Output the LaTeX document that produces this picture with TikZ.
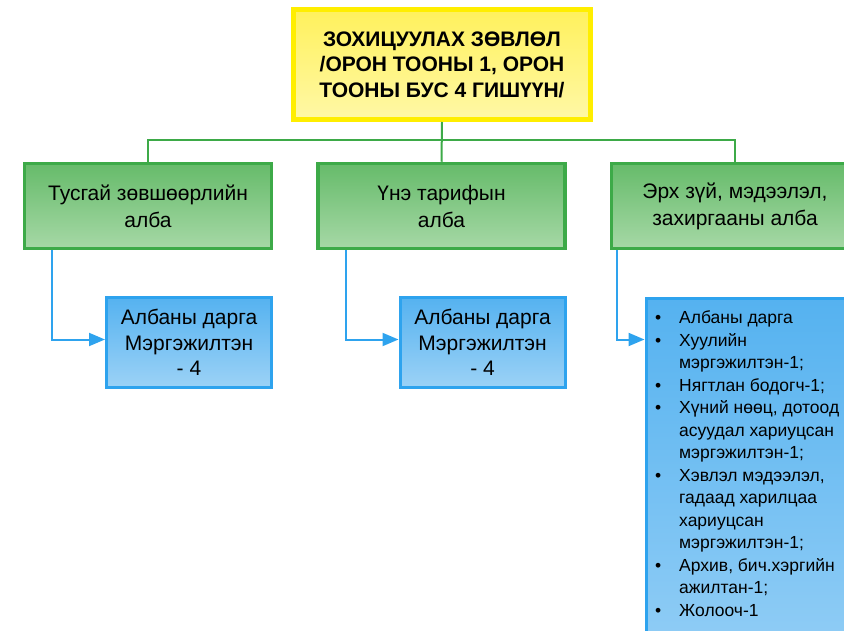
\documentclass[tikz,border=0pt]{standalone}
\usepackage{fontspec}
\setmainfont{Liberation Sans}
\usetikzlibrary{arrows.meta}
\definecolor{ybord}{HTML}{FFEE00}
\definecolor{ytop}{HTML}{FFF15C}
\definecolor{ybot}{HTML}{FFF8A6}
\definecolor{gbord}{HTML}{3DAA48}
\definecolor{gtop}{HTML}{66BB6A}
\definecolor{gbot}{HTML}{A6D8A6}
\definecolor{bbord}{HTML}{2EA3EE}
\definecolor{btop}{HTML}{55B2F0}
\definecolor{bbot}{HTML}{9CD2F6}
\tikzset{
  titlebox/.style={draw=ybord, line width=5pt, top color=ytop, bottom color=ybot,
    minimum width=297pt, minimum height=110pt, inner sep=0pt, align=center,
    font=\fontsize{21}{25.5}\selectfont\bfseries},
  deptbox/.style={draw=gbord, line width=3.5pt, top color=gtop, bottom color=gbot,
    minimum width=247pt, minimum height=85pt, inner sep=0pt, align=center,
    font=\fontsize{21}{27}\selectfont},
  staffbox/.style={draw=bbord, line width=3pt, top color=btop, bottom color=bbot,
    minimum width=165pt, minimum height=90pt, inner sep=0pt, align=center,
    font=\fontsize{21}{25.5}\selectfont},
  gline/.style={draw=gbord, line width=2pt},
  bline/.style={draw=bbord, line width=2pt, -{Triangle[length=16pt,width=13pt]}},
  plain/.style={inner sep=0pt}
}
\begin{document}
\begin{tikzpicture}[x=1pt,y=-1pt]
\useasboundingbox (0,0) rectangle (844,631);
\clip (0,0) rectangle (844,631);
\node[titlebox] (top) at (442,64.5) {ЗОХИЦУУЛАХ ЗӨВЛӨЛ\\/ОРОН ТООНЫ 1, ОРОН\\ТООНЫ БУС 4 ГИШҮҮН/};
\node[deptbox] (gl) at (148,206) {\raisebox{2pt}{\parbox{247pt}{\centering Тусгай зөвшөөрлийн\\алба}}};
\node[deptbox] (gm) at (441.5,206) {\raisebox{2pt}{\parbox{247pt}{\centering Үнэ тарифын\\алба}}};
\node[deptbox] (gr) at (735,206) {\raisebox{2pt}{\parbox{247pt}{\centering Эрх зүй, мэдээлэл,\\захиргааны алба}}};
\coordinate (bus) at (442,140);
\draw[gline] (top.south) -- (gm.north);
\draw[gline] (gl.north) |- (bus) -| (gr.north);
\node[staffbox] (bl) at (189,342.5) {\raisebox{-3pt}{\parbox{165pt}{\centering Албаны дарга\\Мэргэжилтэн\\- 4}}};
\node[staffbox] (bm) at (482.5,342.5) {\raisebox{-3pt}{\parbox{165pt}{\centering Албаны дарга\\Мэргэжилтэн\\- 4}}};
\node[draw=bbord, line width=3pt, top color=btop, bottom color=bbot, minimum width=260pt,
  minimum height=420pt, inner sep=0pt, anchor=north west] (br) at (644.5,297.5) {};
\node[plain, anchor=north west, align=left] (list) at (655,308) {\fontsize{17.5}{22.5}\selectfont
\begin{tabular}{@{}p{24pt}@{}l@{}}
\textbullet&Албаны дарга\\
\textbullet&Хуулийн\\
&мэргэжилтэн-1;\\
\textbullet&Нягтлан бодогч-1;\\
\textbullet&Хүний нөөц, дотоод\\
&асуудал хариуцсан\\
&мэргэжилтэн-1;\\
\textbullet&Хэвлэл мэдээлэл,\\
&гадаад харилцаа\\
&хариуцсан\\
&мэргэжилтэн-1;\\
\textbullet&Архив, бич.хэргийн\\
&ажилтан-1;\\
\textbullet&Жолооч-1
\end{tabular}};
\draw[bline] ([xshift=29pt]gl.south west) |- ([yshift=3pt]bl.west);
\draw[bline] ([xshift=30pt]gm.south west) |- ([yshift=3pt]bm.west);
\draw[bline] ([xshift=7pt]gr.south west) |- ([yshift=-42pt]br.north west);
\end{tikzpicture}
\end{document}
